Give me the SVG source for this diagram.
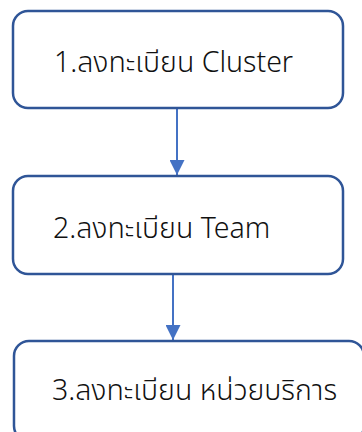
<svg xmlns="http://www.w3.org/2000/svg" width="362" height="432" viewBox="0 0 362 432">
<style>
.box{fill:#fff;stroke:#2F5597;stroke-width:2.5}
.lbl{font-family:"Noto Sans Thai","Noto Sans","DejaVu Sans",sans-serif;font-size:28.5px;font-weight:300;fill:#111}
.conn{stroke:#4472C4;stroke-width:2;fill:none}
</style>
<defs>
<marker id="arr" viewBox="0 0 10 10" refX="10" refY="5" markerWidth="7.5" markerHeight="7.5" orient="auto" markerUnits="strokeWidth">
<path d="M0,0 L10,5 L0,10 z" fill="#4472C4"/>
</marker>
</defs>
<g id="connectors">
<line class="conn" x1="177" y1="108" x2="177" y2="175" marker-end="url(#arr)"/>
<line class="conn" x1="173" y1="274" x2="173" y2="340" marker-end="url(#arr)"/>
</g>
<g id="n1">
<rect class="box" x="13" y="11" width="330" height="97" rx="15"/>
<text class="lbl" x="54" y="72">1.ลงทะเบียน Cluster</text>
</g>
<g id="n2">
<rect class="box" x="13" y="176" width="330" height="98" rx="15"/>
<text class="lbl" x="53" y="238">2.ลงทะเบียน Team</text>
</g>
<g id="n3">
<rect class="box" x="14" y="341" width="350" height="100" rx="15"/>
<text class="lbl" x="52" y="400">3.ลงทะเบียน หน่วยบริการ</text>
</g>
</svg>
